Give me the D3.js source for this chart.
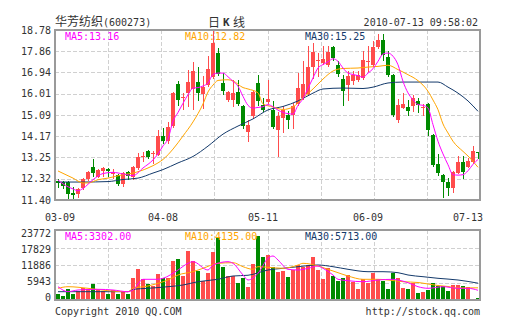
<!DOCTYPE html>
<html><head><meta charset="utf-8">
<script src="https://cdn.jsdelivr.net/npm/d3@7"></script>
<style>
body{margin:0;background:#fff;}
svg text{font-family:"DejaVu Sans Mono",monospace;font-size:10px;fill:#333;}
</style></head><body>
<svg id="c" width="505" height="330"></svg>
<script>
// ---- data ----
const opens =[12.22,12.18,12.18,11.70,11.68,11.92,12.31,12.83,12.42,12.66,12.75,12.55,12.49,12.09,12.62,12.40,12.79,13.27,13.53,13.40,13.37,14.18,13.94,14.61,16.43,15.85,16.04,16.22,16.54,16.00,16.39,16.74,17.78,16.48,15.72,15.72,16.11,15.48,14.37,15.05,16.46,15.52,15.65,15.31,14.44,14.96,15.09,15.09,15.57,15.83,15.98,17.19,17.43,17.35,17.26,18.04,17.26,16.65,16.39,16.57,16.61,16.70,17.39,17.26,18.04,18.34,17.61,16.83,14.87,15.41,15.44,15.48,15.70,15.39,15.57,14.22,12.96,12.49,12.18,11.90,12.59,13.05,12.85,13.05,13.48];
const highs =[12.31,12.22,12.22,11.96,11.94,12.35,12.66,13.18,12.75,12.83,12.79,12.75,12.53,12.62,12.66,12.88,13.44,13.48,13.57,13.51,14.42,14.53,14.79,16.09,16.57,16.04,17.04,17.41,17.19,16.78,17.65,18.78,18.02,16.91,16.13,16.61,16.61,15.52,14.87,16.13,16.83,15.83,16.61,15.68,15.22,15.48,15.26,15.61,16.91,17.43,18.08,18.21,17.78,18.08,18.08,18.08,17.43,16.83,17.00,17.00,17.00,17.87,18.08,18.30,18.60,18.60,17.87,16.87,15.78,16.04,15.74,15.96,15.83,15.57,15.61,14.26,13.40,12.53,12.35,12.66,13.31,13.31,13.22,13.74,13.48];
const lows  =[11.96,11.94,11.42,11.40,11.53,11.88,12.27,12.44,12.40,12.44,12.44,12.35,12.05,12.01,12.31,12.31,12.75,13.09,13.22,13.01,13.35,13.87,13.87,14.57,15.52,15.33,15.48,15.35,15.76,15.39,16.35,16.70,16.83,15.98,15.70,15.48,15.52,14.53,13.98,14.96,15.52,15.26,15.61,14.53,13.31,14.35,14.53,14.53,15.52,15.78,15.96,16.70,16.78,17.30,17.22,17.48,16.78,15.52,15.74,16.43,16.57,16.65,17.00,17.22,18.00,17.48,16.78,15.05,14.79,15.39,15.09,15.26,15.22,15.09,14.22,12.88,12.49,11.53,11.62,11.75,12.57,12.35,12.83,13.01,13.22];
const closes=[12.12,12.01,11.68,11.62,11.88,12.29,12.62,12.57,12.70,12.79,12.64,12.62,12.09,12.57,12.44,12.83,13.27,13.31,13.27,13.44,14.18,13.94,14.59,16.04,15.72,15.89,16.54,16.98,16.04,16.30,17.09,18.21,16.87,16.15,16.09,16.04,15.57,14.61,14.66,16.09,15.68,15.31,15.78,14.57,15.05,15.31,14.89,15.50,16.26,16.43,17.17,17.82,17.48,17.52,17.82,17.56,16.87,16.13,16.78,16.83,16.83,17.48,17.43,18.04,18.34,17.69,16.83,15.09,15.52,15.57,15.26,15.83,15.52,15.44,14.44,12.92,12.57,12.18,11.92,12.62,13.07,12.62,13.09,13.53,13.42];
const volumes=[2038,1358,3634,2038,3158,3973,3634,5434,3396,3158,2038,3396,2038,2819,2038,7369,10426,7030,5434,4754,8830,7369,7369,13244,13822,8150,16640,13244,9848,6452,9067,16301,20953,11309,8150,8150,5671,7369,4517,12226,21734,14705,15282,11309,9611,9950,7913,10188,11886,11309,11886,14705,10188,7030,10765,8150,6452,7573,8490,6215,3736,7030,5671,9271,7030,6554,3736,9271,7369,3973,3736,5875,2479,2819,3396,5671,4754,4585,3158,5094,5094,4754,4313,0,781];

// moving-average lines, read as [candle index, value]
const ma5 =[[0,12.27],[1,12.10],[3,11.88],[4,11.80],[5,11.90],[7,12.28],[9,12.55],[11,12.60],[13,12.53],[15,12.46],[17,12.79],[19,13.14],[20,13.40],[21,13.75],[22,14.05],[23,14.82],[24,15.20],[25,15.60],[26,15.97],[27,16.26],[28,16.28],[29,16.35],[30,16.48],[31,16.85],[32,16.91],[33,16.91],[34,16.75],[35,16.55],[36,16.34],[37,15.90],[38,15.51],[39,15.39],[40,15.42],[41,15.45],[42,15.54],[43,15.45],[44,15.30],[45,15.20],[47,15.13],[48,15.51],[49,15.80],[50,16.25],[51,16.70],[52,17.13],[53,17.28],[54,17.40],[55,17.53],[56,17.42],[57,17.13],[58,16.91],[59,16.85],[60,16.80],[61,16.73],[62,16.91],[63,17.10],[64,17.42],[65,17.74],[66,17.78],[67,17.64],[68,17.27],[69,16.55],[70,16.05],[71,15.75],[72,15.54],[73,15.51],[74,15.39],[75,14.67],[76,13.95],[77,13.40],[78,12.93],[79,12.50],[80,12.48],[81,12.50],[82,12.67],[83,12.95],[84,13.16]];
const ma10=[[0,12.66],[3,12.35],[5,12.14],[6,12.14],[8,12.28],[10,12.35],[13,12.50],[15,12.57],[18,12.79],[20,13.01],[21,13.16],[23,13.61],[25,14.18],[27,14.79],[29,15.57],[30,16.09],[31,16.39],[32,16.59],[34,16.62],[35,16.57],[37,16.28],[38,16.22],[40,16.05],[41,15.57],[43,15.44],[45,15.33],[47,15.44],[49,15.83],[51,16.22],[53,16.65],[55,17.00],[57,17.11],[60,17.13],[62,17.17],[64,17.20],[66,17.25],[68,17.06],[70,16.84],[72,16.58],[74,16.12],[75,15.74],[76,15.32],[77,14.70],[78,14.31],[79,13.95],[81,13.51],[82,13.31],[84,12.82]];
const ma30=[[0,12.18],[5,12.18],[10,12.20],[13,12.29],[16,12.35],[19,12.57],[21,12.72],[24,13.01],[27,13.29],[30,13.74],[33,14.26],[36,14.61],[39,14.92],[42,15.31],[45,15.46],[48,15.70],[51,16.04],[53,16.22],[57,16.26],[61,16.24],[63,16.30],[66,16.48],[69,16.52],[76,16.52],[78,16.30],[80,16.04],[82,15.70],[84,15.25]];
const vma5 =[[0,4517],[2,2819],[4,3396],[8,3634],[11,3396],[14,2819],[15,3396],[17,7030],[20,7030],[21,7369],[24,10188],[26,12463],[27,13007],[30,10188],[31,11886],[34,13007],[35,12463],[37,8490],[38,6792],[40,9067],[42,14161],[43,14942],[44,13584],[46,10426],[48,10188],[50,10765],[52,11546],[53,10765],[55,8490],[56,7030],[58,6554],[61,6215],[64,6792],[67,7030],[68,6792],[70,5875],[72,4517],[74,3973],[77,4517],[80,3973],[82,3973],[84,3302]];
const vma10=[[0,3973],[2,4517],[6,3973],[10,3158],[14,2819],[15,3973],[18,4754],[20,5671],[22,6792],[24,8490],[27,9611],[29,10765],[32,12463],[35,12667],[37,11309],[39,10426],[40,11309],[42,11105],[45,10765],[48,11886],[49,12463],[52,11546],[54,10426],[56,9271],[58,8150],[61,7030],[64,7030],[66,6792],[69,6215],[72,5943],[74,5434],[76,4924],[78,4585],[80,4075],[84,4135]];
const vma30=[[0,2819],[14,2819],[15,3634],[18,3973],[22,4517],[25,5094],[28,6215],[32,7030],[35,8150],[38,8400],[42,10188],[45,10765],[48,11309],[52,11886],[55,11309],[58,10426],[62,9611],[65,9611],[68,9271],[70,8490],[73,7913],[76,7369],[80,6792],[84,5713]];

const priceTicks=[18.78,17.86,16.94,16.01,15.09,14.17,13.25,12.32,11.40];
const volTicks=[23772,17829,11886,5943,0];
const xTickIndex=[0,21,41,62,82];
const xTickLabels=['03-09','04-08','05-11','06-09','07-13'];
const stockName='华芳纺织', stockCode='(600273)', stamp='2010-07-13 09:58:02';

// ---- layout ----
const L=55,R=480,mT=30,mB=200,vT=230,vB=300;
const RED='#ff4c4c',GREEN='#008a00',C5='#ff00ff',C10='#ffa500',C30='#143a6b',GRID='#d0d0d0',BORDER='#9a9a9a';
const svg=d3.select('#c');
const n=closes.length;
const x=d3.scaleBand().domain(d3.range(n)).range([L,R]).paddingInner(0.2).paddingOuter(0.1).round(true);
const bw=x.bandwidth();
const y=d3.scaleLinear().domain([priceTicks[priceTicks.length-1],priceTicks[0]]).range([mB,mT]);
const yv=d3.scaleLinear().domain([0,volTicks[0]]).range([vB,vT]);
const yvLab=d3.scaleLinear().domain([0,volTicks[0]]).range([vB-3,vT+3]);
const cx=i=>x(i)+bw/2;
const col=i=>closes[i]>=opens[i]?RED:GREEN;

function grid(top,bottom,yvals){
  const g=svg.append('g').attr('stroke',GRID).attr('stroke-dasharray','4,2').attr('shape-rendering','crispEdges');
  yvals.forEach(v=>g.append('line').attr('x1',L).attr('x2',R).attr('y1',Math.round(v)+0.5).attr('y2',Math.round(v)+0.5));
  for(let k=1;k<8;k++){const gx=Math.round(L+k*(R-L)/8)+0.5;g.append('line').attr('x1',gx).attr('x2',gx).attr('y1',top).attr('y2',bottom);}
}
grid(mT,mB,priceTicks.slice(1,-1).map(t=>y(t)));
grid(vT,vB,volTicks.slice(1,-1).map(t=>yv(t)));

// candles
const cg=svg.append('g');
d3.range(n).forEach(i=>{
  const c=col(i);
  cg.append('line').attr('x1',x(i)+2.5).attr('x2',x(i)+2.5)
    .attr('y1',Math.round(y(highs[i]))).attr('y2',Math.round(y(lows[i]))+1)
    .attr('stroke',c).attr('shape-rendering','crispEdges');
  const t=Math.round(y(Math.max(opens[i],closes[i]))), b=Math.round(y(Math.min(opens[i],closes[i])));
  cg.append('rect').attr('x',x(i)).attr('width',bw).attr('y',t).attr('height',Math.max(1,b-t))
    .attr('fill',c).attr('shape-rendering','crispEdges');
});
// volume bars
const vg=svg.append('g');
d3.range(n).forEach(i=>{
  const t=Math.round(yv(volumes[i]));
  if(vB-t>0) vg.append('rect').attr('x',x(i)).attr('width',bw).attr('y',t).attr('height',vB-t)
    .attr('fill',col(i)).attr('shape-rendering','crispEdges');
});

// MA lines
function maLine(data,sc,color){
  svg.append('path').datum(data).attr('fill','none').attr('stroke',color).attr('stroke-width',1)
    .attr('d',d3.line().x(d=>cx(d[0])).y(d=>sc(d[1])).curve(d3.curveMonotoneX));
}
maLine(ma30,y,C30);maLine(ma10,y,C10);maLine(ma5,y,C5);
maLine(vma30,yv,C30);maLine(vma10,yv,C10);maLine(vma5,yv,C5);

// borders
[[mT,mB],[vT,vB]].forEach(([t,b])=>svg.append('rect').attr('x',L).attr('y',t).attr('width',R-L).attr('height',b-t)
  .attr('fill','none').attr('stroke',BORDER).attr('stroke-width',2));

// axis labels
priceTicks.forEach(t=>svg.append('text').attr('x',51).attr('y',y(t)+3.5).attr('text-anchor','end').text(d3.format('.2f')(t)));
volTicks.forEach(t=>svg.append('text').attr('x',51).attr('y',yvLab(t)+3.5).attr('text-anchor','end').text(t));
xTickIndex.forEach((ix,k)=>svg.append('text').attr('x',Math.max(cx(ix),60)).attr('y',220.5).attr('text-anchor','middle').text(xTickLabels[k]));

// legends
const f2=d3.format('.2f');
const last=a=>a[a.length-1][1];
function legend(yb,items){items.forEach(([tx,txt,c])=>svg.append('text').attr('x',tx).attr('y',yb).style('fill',c).text(txt));}
legend(39.5,[[65,'MA5:'+f2(last(ma5)),C5],[185,'MA10:'+f2(last(ma10)),C10],[305,'MA30:'+f2(last(ma30)),C30]]);
legend(240.3,[[65,'MA5:'+f2(last(vma5)),C5],[185,'MA10:'+f2(last(vma10)),C10],[305,'MA30:'+f2(last(vma30)),C30]]);

// header
const h=svg.append('text').attr('x',55).attr('y',26);
h.append('tspan').style('font-family','"Noto Sans CJK SC"').style('font-size','12px').text(stockName);
h.append('tspan').text(stockCode);
svg.append('text').attr('x',208).attr('y',26.5).style('font-family','"Noto Sans CJK SC"').style('font-size','12px').text('日');
svg.append('text').attr('x',223).attr('y',26).style('font-weight','bold').style('font-size','11px').text('K');
svg.append('text').attr('x',233).attr('y',26.5).style('font-family','"Noto Sans CJK SC"').style('font-size','12px').text('线');
svg.append('text').attr('x',478).attr('y',25.6).attr('text-anchor','end').text(stamp);
// footer
svg.append('text').attr('x',55).attr('y',315.3).text('Copyright 2010 QQ.COM');
svg.append('text').attr('x',480).attr('y',315.3).attr('text-anchor','end').text('http://stock.qq.com');
</script></body></html>
